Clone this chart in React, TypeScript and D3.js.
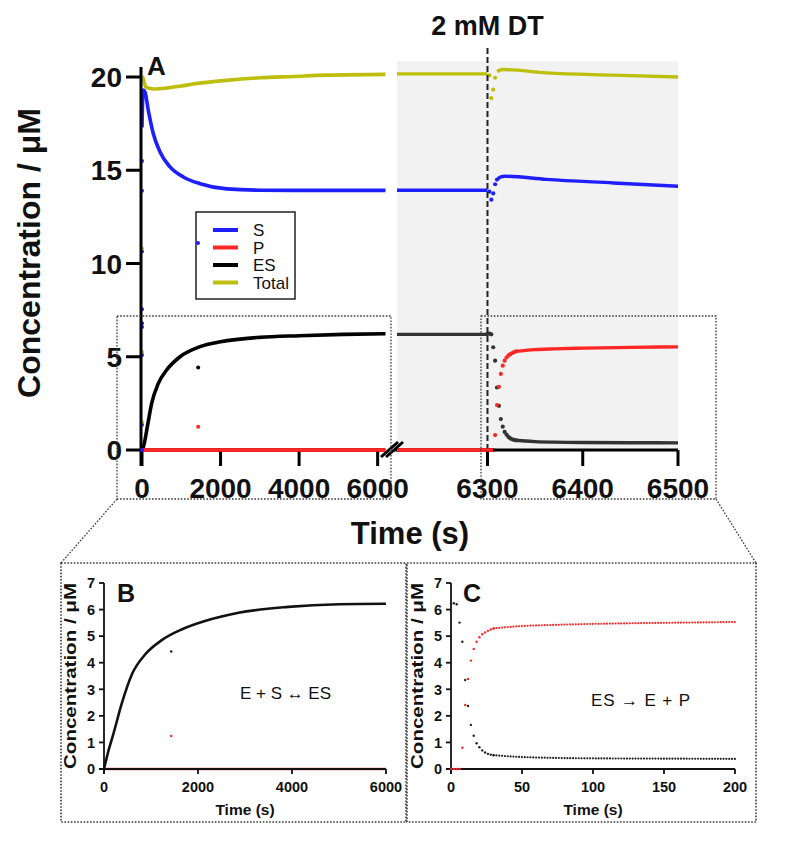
import React from 'react';
import * as d3 from 'd3';

type Pt = [number, number];

const FONT = "'Liberation Sans', Arial, Helvetica, sans-serif";

const BLUE = '#1e1eff';
const RED = '#ff2626';
const BLACK = '#000000';
const DARK = '#333333';
const OLIVE = '#bebe0c';

// Phase 1: binding, 0–6200 s (main panel)
const approachS: Pt[] = [
  [0, 17.3], [30, 19.3], [76, 19.2], [161, 18.2], [288, 16.96], [459, 15.98], [713, 15.18],
  [1052, 14.64], [1478, 14.28], [2158, 14.0], [3006, 13.93], [4500, 13.92], [6200, 13.92],
];
const approachTotal: Pt[] = [
  [0, 20.05], [25, 19.95], [100, 19.45], [300, 19.36], [600, 19.4], [1000, 19.52],
  [1300, 19.62], [2150, 19.82], [3000, 19.96], [3850, 20.03], [4700, 20.1], [6200, 20.14],
];
const approachES: Pt[] = [
  [0, 0], [40, 0.2], [136, 1.25], [246, 2.5], [416, 3.57], [628, 4.29], [968, 5.0],
  [1478, 5.54], [2000, 5.8], [3000, 6.04], [4000, 6.13], [5130, 6.2], [6200, 6.23],
];
const approachP: Pt[] = [[0, 0], [6200, 0]];

// ES trace as plotted in panel B
const bindingES: Pt[] = [
  [0, 0], [100, 0.72], [200, 1.32], [375, 2.45], [590, 3.55], [870, 4.3],
  [1230, 4.85], [1650, 5.25], [2150, 5.57], [2860, 5.88], [3920, 6.1], [5000, 6.2], [6000, 6.22],
];
const bindingP: Pt[] = [[0, 0], [6000, 0]];

// early readings stacked at t = 0
const startS = [15.5, 13.9, 10.65, 7.55, 6.8, 6.6, 5.1, 1.35, 0];
const startTotal = [10.8, 5.25, 1.5];

// single stray reading
const strayT = 1430;
const strayS = 11.1;
const strayES = 4.42;
const strayP = 1.24;

// plateau before dithionite (6205–6300 s)
const plateauS: Pt[] = [[6205, 13.93], [6300, 13.93]];
const plateauTotal: Pt[] = [[6205, 20.17], [6300, 20.17]];
const plateauES: Pt[] = [[6205, 6.2], [6300, 6.2]];
const plateauP: Pt[] = [[6205, 0], [6306, 0]];

const DT_TIME = 6300;

// after dithionite, seconds since addition
const dtSDots: Pt[] = [[2, 13.85], [4, 13.42], [6, 13.76], [8, 14.25], [10, 14.5]];
const dtSLine: Pt[] = [[11, 14.55], [14, 14.65], [18, 14.68], [62, 14.51], [132, 14.32], [200, 14.14]];
const dtTotalDots: Pt[] = [[2, 20.09], [4, 18.87], [6, 19.32], [8, 19.96]];
const dtTotalLine: Pt[] = [[10, 20.3], [16, 20.4], [62, 20.22], [132, 20.1], [200, 20.0]];

const cTimes = [0, 2, 4, 6, 8, 10, 12, 14, 16, 18, 20, 22, 24, 26, 28, 30];
const cES = [6.22, 6.24, 6.2, 5.51, 4.79, 3.35, 2.37, 1.66, 1.25, 0.97, 0.82, 0.7, 0.62, 0.57, 0.54, 0.52];
const cP = [0, 0, 0, 0, 0.8, 2.41, 3.39, 4.08, 4.52, 4.79, 4.96, 5.07, 5.14, 5.2, 5.25, 5.29];
const cESTail: Pt[] = [[30, 0.52], [40, 0.48], [50, 0.45], [70, 0.42], [100, 0.4], [150, 0.39], [200, 0.38]];
const cPTail: Pt[] = [[30, 5.29], [40, 5.34], [50, 5.38], [70, 5.42], [100, 5.46], [150, 5.5], [200, 5.53]];

const legendItems = [
  { label: 'S', color: BLUE },
  { label: 'P', color: RED },
  { label: 'ES', color: BLACK },
  { label: 'Total', color: OLIVE },
];

const mainYTicks = [0, 5, 10, 15, 20];
const mainX1Ticks = [0, 2000, 4000, 6000];
const mainX2Ticks = [6300, 6400, 6500];
const bXTicks = [0, 2000, 4000, 6000];
const cXTicks = [0, 50, 100, 150, 200];
const smallYTicks = [0, 1, 2, 3, 4, 5, 6, 7];

// scales
const yMain = d3.scaleLinear().domain([0, 20]).range([450, 77]);
const x1 = d3.scaleLinear().domain([0, 6200]).range([142, 385.5]);
const x2 = d3.scaleLinear().domain([6205, 6500]).range([397, 678]);
const xB = d3.scaleLinear().domain([0, 6000]).range([104, 386]);
const xC = d3.scaleLinear().domain([0, 200]).range([451, 735]);
const ySmall = d3.scaleLinear().domain([0, 7]).range([769, 583]);

const linePath = (pts: Pt[], x: (v: number) => number, y: (v: number) => number) =>
  d3.line<Pt>().x(d => x(d[0])).y(d => y(d[1])).curve(d3.curveMonotoneX)(pts) || '';

const xDT = (t: number) => x2(DT_TIME + t);

const DOT = { stroke: '#3a3a3a', strokeWidth: 1.3, strokeDasharray: '1.6 1.6', fill: 'none' };

function SmallAxes({ x, ticks, label }: { x: d3.ScaleLinear<number, number>; ticks: number[]; label: string }) {
  const [x0, x1r] = x.range();
  const y0 = ySmall(0);
  return (
    <g fontFamily={FONT} fontWeight="bold" fill="#111">
      <line x1={x0} x2={x0} y1={ySmall(7)} y2={y0 + 5} stroke="#111" strokeWidth={1.8} />
      <line x1={x0 - 5} x2={x1r} y1={y0} y2={y0} stroke="#111" strokeWidth={1.8} />
      {smallYTicks.map(v => (
        <g key={v}>
          <line x1={x0 - 5} x2={x0} y1={ySmall(v)} y2={ySmall(v)} stroke="#111" strokeWidth={1.8} />
          <text x={x0 - 9} y={ySmall(v)} dy="0.36em" textAnchor="end" fontSize={14.5}>{v}</text>
        </g>
      ))}
      {ticks.map(v => (
        <g key={v}>
          <line x1={x(v)} x2={x(v)} y1={y0} y2={y0 + 5} stroke="#111" strokeWidth={1.8} />
          <text x={x(v)} y={792} textAnchor="middle" fontSize={14.5}>{v}</text>
        </g>
      ))}
      <text x={(x0 + x1r) / 2} y={815} textAnchor="middle" fontSize={15.5}>{label}</text>
      <text transform={`translate(${x0 - 28},676) rotate(-90)`} textAnchor="middle" fontSize={16}
        textLength={186} lengthAdjust="spacingAndGlyphs">
        Concentration / μM
      </text>
    </g>
  );
}

export default function App() {
  const axisY = yMain(0);
  const bx = 388;
  return (
    <svg width={793} height={846} style={{ position: 'absolute', left: 0, top: 0, background: '#fff' }}>
      {/* shaded window after the break */}
      <rect x={x2(6205)} y={61} width={x2(6500) - x2(6205)} height={axisY - 61} fill="#f2f2f2" />

      {/* phase 1 traces */}
      <g fill="none" strokeWidth={3.6} strokeLinejoin="round">
        <path d={linePath(approachTotal, x1, yMain)} stroke={OLIVE} />
        <path d={linePath(approachS, x1, yMain)} stroke={BLUE} />
        <path d={linePath(approachES, x1, yMain)} stroke={BLACK} />
        <path d={linePath(approachP, x1, yMain)} stroke={RED} />
      </g>
      {startS.map((v, i) => <circle key={'s' + i} cx={x1(0)} cy={yMain(v)} r={2} fill={BLUE} />)}
      {startTotal.map((v, i) => <circle key={'t' + i} cx={x1(0)} cy={yMain(v)} r={2} fill={OLIVE} />)}
      <circle cx={x1(strayT)} cy={yMain(strayS)} r={2} fill={BLUE} />
      <circle cx={x1(strayT)} cy={yMain(strayES)} r={2} fill={BLACK} />
      <circle cx={x1(strayT)} cy={yMain(strayP)} r={2} fill={RED} />

      {/* plateau and dithionite response */}
      <g fill="none" strokeWidth={3.4} strokeLinejoin="round">
        <path d={linePath(plateauTotal, x2, yMain)} stroke={OLIVE} />
        <path d={linePath(plateauS, x2, yMain)} stroke={BLUE} />
        <path d={linePath(plateauES, x2, yMain)} stroke={DARK} />
        <path d={linePath(plateauP, x2, yMain)} stroke={RED} />
        <path d={linePath(dtTotalLine, xDT, yMain)} stroke={OLIVE} />
        <path d={linePath(dtSLine, xDT, yMain)} stroke={BLUE} />
        <path d={linePath(cESTail, xDT, yMain)} stroke={DARK} />
        <path d={linePath(cPTail, xDT, yMain)} stroke={RED} />
      </g>
      {dtTotalDots.map(([t, v]) => <circle key={'dt' + t} cx={xDT(t)} cy={yMain(v)} r={2.1} fill={OLIVE} />)}
      {dtSDots.map(([t, v]) => <circle key={'ds' + t} cx={xDT(t)} cy={yMain(v)} r={2.1} fill={BLUE} />)}
      {cTimes.map((t, i) => <circle key={'de' + t} cx={xDT(t)} cy={yMain(cES[i])} r={2.1} fill={DARK} />)}
      {cTimes.map((t, i) => <circle key={'dp' + t} cx={xDT(t)} cy={yMain(cP[i])} r={2.1} fill={RED} />)}

      {/* dithionite marker */}
      <line x1={x2(DT_TIME)} x2={x2(DT_TIME)} y1={48} y2={axisY + 16} stroke="#222" strokeWidth={2} strokeDasharray="6 3" />
      <text x={x2(DT_TIME)} y={35} textAnchor="middle" fontFamily={FONT} fontWeight="bold" fontSize={27} fill="#111">2 mM DT</text>

      {/* main axes */}
      <g stroke="#000" strokeWidth={3} fill="none">
        <line x1={x1(0) - 1} x2={x1(0) - 1} y1={67} y2={axisY + 16} />
        <line x1={x1(0) - 1} x2={384} y1={axisY} y2={axisY} />
        <line x1={394} x2={x2(6500)} y1={axisY} y2={axisY} />
        {mainYTicks.map(v => <line key={v} x1={x1(0) - 16} x2={x1(0) - 1} y1={yMain(v)} y2={yMain(v)} />)}
        {mainX1Ticks.map(v => <line key={v} x1={x1(v)} x2={x1(v)} y1={axisY} y2={axisY + 16} />)}
        {mainX2Ticks.map(v => <line key={v} x1={x2(v)} x2={x2(v)} y1={axisY} y2={axisY + 16} />)}
      </g>
      {/* red baseline is drawn over the axis */}
      <path d={linePath(approachP, x1, yMain)} stroke={RED} strokeWidth={3.6} fill="none" />
      <path d={linePath(plateauP, x2, yMain)} stroke={RED} strokeWidth={3.6} fill="none" />
      <circle cx={x1(0)} cy={yMain(0)} r={2} fill={BLUE} />
      {/* axis break */}
      <g stroke="#000" strokeWidth={3}>
        <line x1={bx - 7} y1={457} x2={bx + 10} y2={442} />
        <line x1={bx - 2} y1={457} x2={bx + 15} y2={442} />
      </g>

      <g fontFamily={FONT} fontWeight="bold" fill="#111">
        {mainYTicks.map(v => (
          <text key={v} x={x1(0) - 20} y={yMain(v)} dy="0.36em" textAnchor="end" fontSize={28}>{v}</text>
        ))}
        {mainX1Ticks.map(v => (
          <text key={v} x={x1(v)} y={498} textAnchor="middle" fontSize={28}>{v}</text>
        ))}
        {mainX2Ticks.map(v => (
          <text key={v} x={x2(v)} y={498} textAnchor="middle" fontSize={28}>{v}</text>
        ))}
        <text x={147} y={75} fontSize={26}>A</text>
        <text x={410} y={544} textAnchor="middle" fontSize={31}>Time (s)</text>
        <text transform="translate(40,253) rotate(-90)" textAnchor="middle" fontSize={32}>Concentration / μM</text>
      </g>

      {/* legend */}
      <rect x={196} y={212} width={99} height={87} fill="#fff" stroke="#222" strokeWidth={1.5} />
      <circle cx={198} cy={yMain(strayS)} r={2} fill={BLUE} />
      {legendItems.map((d, i) => (
        <g key={d.label} transform={`translate(0,${230 + i * 17.5})`}>
          <line x1={213} x2={238} y1={0} y2={0} stroke={d.color} strokeWidth={4} />
          <text x={253} y={0} dy="0.36em" fontFamily={FONT} fontSize={17} fill="#111">{d.label}</text>
        </g>
      ))}

      {/* zoom frames */}
      <rect x={117} y={316} width={274} height={183} {...DOT} />
      <rect x={481} y={316} width={235} height={183} {...DOT} />
      <line x1={117} y1={499} x2={61} y2={563} {...DOT} />
      <line x1={716} y1={499} x2={756} y2={563} {...DOT} />
      <rect x={61} y={563} width={345} height={259} {...DOT} strokeWidth={1.6} />
      <rect x={407} y={563} width={349} height={259} {...DOT} strokeWidth={1.6} />

      {/* panel B */}
      <path d={linePath(bindingP, xB, ySmall)} stroke="#ff4a4a" strokeWidth={2.6} fill="none" />
      <path d={linePath(bindingES, xB, ySmall)} stroke="#111" strokeWidth={2.6} fill="none" />
      <circle cx={xB(strayT)} cy={ySmall(strayES)} r={1.2} fill="#111" />
      <circle cx={xB(strayT)} cy={ySmall(strayP)} r={1.2} fill={RED} />
      <SmallAxes x={xB} ticks={bXTicks} label="Time (s)" />
      <text x={117} y={602} fontFamily={FONT} fontWeight="bold" fontSize={25} fill="#111">B</text>
      <text x={240} y={699} fontFamily={FONT} fontSize={17} fill="#111" textLength={91} lengthAdjust="spacing">E + S ↔ ES</text>

      {/* panel C */}
      <path d={linePath(cESTail, xC, ySmall)} stroke="#222" strokeWidth={2.2} strokeLinecap="round" strokeDasharray="0 2.84" fill="none" />
      <path d={linePath(cPTail, xC, ySmall)} stroke={RED} strokeWidth={2.2} strokeLinecap="round" strokeDasharray="0 2.84" fill="none" />
      <SmallAxes x={xC} ticks={cXTicks} label="Time (s)" />
      {cTimes.map((t, i) => <circle key={'ce' + t} cx={xC(t)} cy={ySmall(cES[i])} r={1.2} fill="#222" />)}
      {cTimes.map((t, i) => <circle key={'cp' + t} cx={xC(t)} cy={ySmall(cP[i])} r={1.2} fill={RED} />)}
      <text x={463} y={602} fontFamily={FONT} fontWeight="bold" fontSize={25} fill="#111">C</text>
      <text x={591} y={706} fontFamily={FONT} fontSize={17} fill="#111" textLength={99} lengthAdjust="spacing">ES → E + P</text>
    </svg>
  );
}
